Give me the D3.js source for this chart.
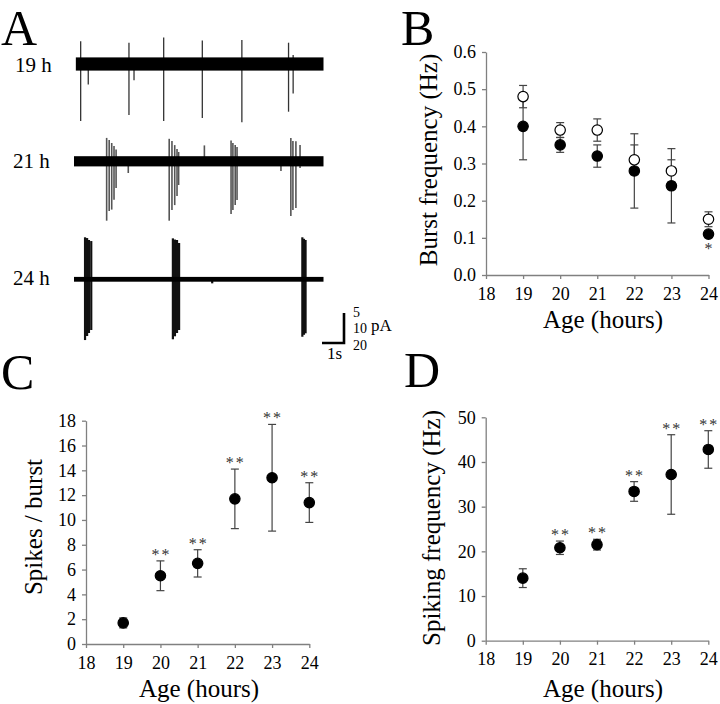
<!DOCTYPE html>
<html>
<head>
    <script src="https://cdnjs.cloudflare.com/ajax/libs/d3/7.8.5/d3.min.js"></script>
    <style>
        body { margin: 0; background: #fff; }
        .axis path, .axis line { stroke: #808080; stroke-width: 1.3px; }
        .ebar { stroke: #444; stroke-width: 1.2px; }
    </style>
</head>
<body>
    <div id="fig"></div>
    <script>
        // ---- data ----
        const ages = [19, 20, 21, 22, 23, 24];

        // B: burst frequency (Hz), filled and open circles
        const burstFilled = [0.40, 0.35, 0.32, 0.28, 0.24, 0.11];
        const burstFilledErr = [0.09, 0.02, 0.03, 0.10, 0.10, 0.005];
        const burstOpen = [0.48, 0.39, 0.39, 0.31, 0.28, 0.15];
        const burstOpenErr = [0.03, 0.02, 0.03, 0.04, 0.03, 0.02];
        const burstSig = ["", "", "", "", "", "*"];

        // C: spikes per burst
        const spikesPerBurst = [1.7, 5.5, 6.5, 11.7, 13.4, 11.4];
        const spikesPerBurstErr = [0.4, 1.2, 1.1, 2.4, 4.3, 1.6];
        const spikesSig = ["", "**", "**", "**", "**", "**"];

        // D: spiking frequency (Hz)
        const spikingFreq = [14.0, 20.8, 21.5, 33.4, 37.2, 42.8];
        const spikingFreqErr = [2.1, 1.5, 1.2, 2.2, 8.9, 4.2];
        const spikingSig = ["", "**", "**", "**", "**", "**"];

        // A: traces, spikes as [time s, up pA, down pA]
        const traceLabels = ["19 h", "21 h", "24 h"];
        const scaleBarPA = [5, 10, 20];
        const traceNoisePA = [1.1, 1.7, 1.6];
        const spikes19 = [
            [0.29, 3.8, 9.5], [0.62, 0, 3.4], [2.39, 3.55, 8.5], [2.61, 0, 2.7],
            [3.90, 4.4, 9.5], [5.58, 3.9, 9.0], [7.30, 4.0, 9.7],
            [9.33, 3.55, 7.95], [9.53, 1.5, 4.9]
        ];
        const spikes21 = [
            [1.42, 7.8, 19.8], [1.53, 7.1, 16.6], [1.64, 6.1, 16.1], [1.74, 5.1, 12.8], [1.83, 3.9, 8.9],
            [2.36, 0, 3.9],
            [4.14, 7.5, 19.8], [4.26, 6.8, 16.2], [4.38, 5.4, 14.6], [4.48, 4.1, 11.6], [4.55, 3.1, 7.9],
            [5.67, 5.3, 0],
            [6.83, 6.9, 17.6], [6.91, 6.1, 16.2], [7.01, 5.4, 14.6], [7.09, 4.8, 12.9],
            [9.00, 0, 3.2],
            [9.43, 7.8, 18.2], [9.52, 6.8, 16.2], [9.65, 6.7, 15.6], [9.83, 5.4, 2.2]
        ];
        const spikes24 = [
            [0.48, 28, 40.5], [0.57, 27.5, 37.8], [0.65, 26.2, 35.8], [0.75, 25.5, 33.8],
            [4.30, 27.3, 40], [4.39, 26.5, 38], [4.48, 26.2, 35.8], [4.57, 24.2, 33.8],
            [6.01, 0, 2.7],
            [9.93, 28, 38.3], [10.00, 27, 37], [10.07, 26.2, 36]
        ];

        const serif = "Liberation Serif";
        const width = 720, height = 704;
        const svg = d3.select("#fig").append("svg").attr("width", width).attr("height", height)
            .attr("font-family", serif);

        function label(parent, x, y, size, txt) {
            return parent.append("text").attr("x", x).attr("y", y)
                .attr("font-family", serif).attr("font-size", size).attr("fill", "#000")
                .text(txt);
        }

        // panel letters
        [["A", 1, 45], ["B", 401, 45], ["C", 1, 389], ["D", 404, 387]].forEach(([t, x, y]) => {
            label(svg, x, y, 50, t);
        });

        // ---- panel A ----
        const tx = d3.scaleLinear().domain([0, 10.85]).range([74, 323.5]);
        const traces = [
            { spikes: spikes19, base: 64, pxPerPA: 6, color: "#333", w: 1.3, t0: 0.08 },
            { spikes: spikes21, base: 161.3, pxPerPA: 3, color: "#555", w: 1.6, t0: 0 },
            { spikes: spikes24, base: 279.3, pxPerPA: 1.5, color: "#111", w: 2.2, t0: 0 }
        ];
        traces.forEach((tr, i) => {
            const y = d3.scaleLinear().domain([0, 1]).range([tr.base, tr.base - tr.pxPerPA]);
            const g = svg.append("g");
            g.selectAll("line.sp").data(tr.spikes).enter().append("line")
                .attr("x1", d => tx(d[0])).attr("x2", d => tx(d[0]))
                .attr("y1", d => y(d[1])).attr("y2", d => y(-d[2]))
                .attr("stroke", tr.color).attr("stroke-width", tr.w);
            const n = traceNoisePA[i];
            g.append("rect")
                .attr("x", tx(tr.t0)).attr("width", tx(10.85) - tx(tr.t0))
                .attr("y", y(n)).attr("height", y(-n) - y(n))
                .attr("fill", "#000");
            label(svg, i === 0 ? 15 : 13, [72, 168, 285][i], 21, traceLabels[i]);
        });

        // scale bar
        const sb = svg.append("g");
        sb.append("path").attr("d", "M322,343 H344 V313").attr("fill", "none")
            .attr("stroke", "#000").attr("stroke-width", 2.6);
        label(sb, 327, 359, 17, "1s");
        scaleBarPA.forEach((v, i) => label(sb, 353, [316.5, 333, 349.5][i], 14, v));
        label(sb, 371, 331, 17, "pA");

        // ---- scatter panels ----
        function panel(cfg) {
            const x = d3.scaleLinear().domain([18, 24]).range(cfg.xr);
            const y = d3.scaleLinear().domain(cfg.yd).range(cfg.yr);
            const g = svg.append("g");

            const ax = g.append("g").attr("class", "axis")
                .attr("transform", `translate(0,${cfg.yr[0]})`)
                .call(d3.axisBottom(x).tickValues(d3.range(18, 25)).tickFormat(d3.format("d"))
                    .tickSize(4).tickSizeOuter(0).tickPadding(8));
            const ay = g.append("g").attr("class", "axis")
                .attr("transform", `translate(${cfg.xr[0]},0)`)
                .call(d3.axisLeft(y).tickValues(cfg.yticks).tickFormat(cfg.fmt)
                    .tickSize(4).tickSizeOuter(0).tickPadding(6));
            [ax, ay].forEach(a => a.attr("font-family", serif).attr("font-size", 18)
                .selectAll("text").attr("fill", "#000"));

            label(g, cfg.xTitleX, cfg.xTitleY, 25, "Age (hours)")
                .attr("text-anchor", "middle");
            label(g, 0, 0, 25, cfg.yTitle)
                .attr("text-anchor", "middle")
                .attr("transform", `translate(${cfg.yTitleX},${cfg.yTitleY}) rotate(-90)`);

            cfg.series.forEach(s => {
                const eb = g.append("g");
                ages.forEach((a, i) => {
                    const cx = x(a), lo = y(s.mean[i] - s.err[i]), hi = y(s.mean[i] + s.err[i]);
                    eb.append("line").attr("class", "ebar").attr("x1", cx).attr("x2", cx).attr("y1", lo).attr("y2", hi);
                    eb.append("line").attr("class", "ebar").attr("x1", cx - 4).attr("x2", cx + 4).attr("y1", lo).attr("y2", lo);
                    eb.append("line").attr("class", "ebar").attr("x1", cx - 4).attr("x2", cx + 4).attr("y1", hi).attr("y2", hi);
                });
            });
            cfg.series.forEach(s => {
                g.selectAll(null).data(ages).enter().append("circle")
                    .attr("cx", d => x(d)).attr("cy", (d, i) => y(s.mean[i]))
                    .attr("r", 5.2)
                    .attr("fill", s.open ? "#fff" : "#000")
                    .attr("stroke", "#000").attr("stroke-width", 1.2);
            });

            const sig = cfg.sig;
            ages.forEach((a, i) => {
                if (!sig.marks[i]) return;
                const yy = sig.below ? y(sig.s.mean[i]) + 20 : y(sig.s.mean[i] + sig.s.err[i]) - 1;
                label(g, x(a) + 1, yy, 16, sig.marks[i])
                    .attr("text-anchor", "middle").attr("letter-spacing", 2).attr("fill", "#333");
            });
        }

        const filledB = { mean: burstFilled, err: burstFilledErr, open: false };
        panel({
            xr: [486, 708.5], yd: [0, 0.6], yr: [275, 52],
            yticks: d3.range(0, 0.61, 0.1), fmt: d3.format(".1f"),
            yTitle: "Burst frequency (Hz)", yTitleX: 437, yTitleY: 160, xTitleX: 603, xTitleY: 328,
            series: [filledB, { mean: burstOpen, err: burstOpenErr, open: true }],
            sig: { s: filledB, marks: burstSig, below: true }
        });

        const seriesC = { mean: spikesPerBurst, err: spikesPerBurstErr, open: false };
        panel({
            xr: [86, 309.3], yd: [0, 18], yr: [644, 420.7],
            yticks: d3.range(0, 19, 2), fmt: d3.format("d"),
            yTitle: "Spikes / burst", yTitleX: 42, yTitleY: 527, xTitleX: 199, xTitleY: 697,
            series: [seriesC],
            sig: { s: seriesC, marks: spikesSig, below: false }
        });

        const seriesD = { mean: spikingFreq, err: spikingFreqErr, open: false };
        panel({
            xr: [485.7, 708.3], yd: [0, 50], yr: [640.7, 417.3],
            yticks: d3.range(0, 51, 10), fmt: d3.format("d"),
            yTitle: "Spiking frequency (Hz)", yTitleX: 440, yTitleY: 528, xTitleX: 603, xTitleY: 697,
            series: [seriesD],
            sig: { s: seriesD, marks: spikingSig, below: false }
        });
    </script>
</body>
</html>
